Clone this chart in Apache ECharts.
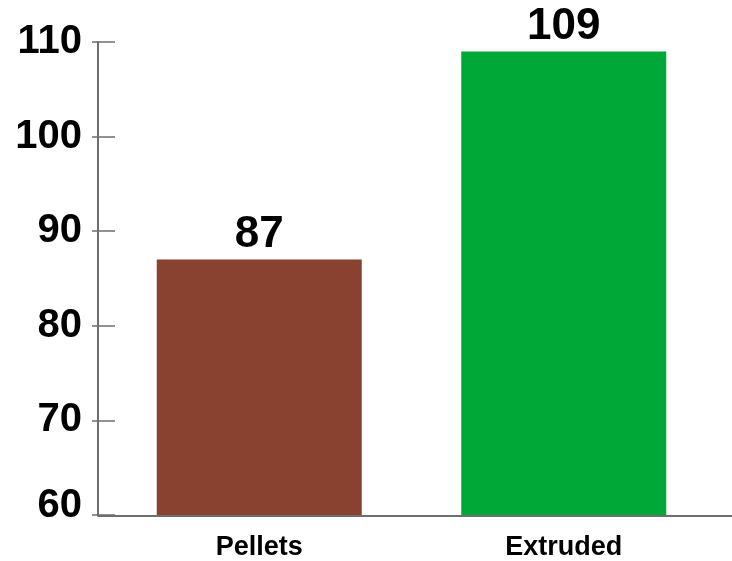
<!DOCTYPE html>
<html>
<head>
<meta charset="utf-8">
<style>
  html, body { margin: 0; padding: 0; background: #ffffff; }
  #chart { width: 732px; height: 561px; }
</style>
<script src="https://cdn.jsdelivr.net/npm/echarts@6/dist/echarts.min.js"></script>
</head>
<body>
<div id="chart"></div>
<script>
// Feed form comparison
const categories = ['Pellets', 'Extruded'];
const values = [87, 109];
const barColors = ['#894130', '#00A838'];
const yTicks = { min: 60, max: 110, step: 10 };

const FONT = '"Liberation Sans", Arial, Helvetica, sans-serif';
const AXIS_GREY = '#6e6e6e';
const yLabelText = { fontFamily: FONT, fontWeight: 'bold', fontSize: 40, color: '#000000' };

const chart = echarts.init(document.getElementById('chart'), null, { renderer: 'canvas' });

chart.setOption({
  animation: false,
  backgroundColor: '#ffffff',
  grid: [
    { left: 107, right: 16, top: 42, bottom: 45 },
    { left: 98, right: 0, top: 42, bottom: 45 }
  ],
  xAxis: [
    {
      type: 'category',
      gridIndex: 0,
      data: categories,
      axisLine: { show: false },
      axisTick: { show: false },
      axisLabel: {
        margin: 19,
        fontFamily: FONT,
        fontWeight: 'bold',
        fontSize: 27,
        color: '#000000'
      }
    },
    {
      // baseline spanning the full plot width
      type: 'value',
      gridIndex: 1,
      min: 0,
      max: 1,
      axisLine: { show: true, lineStyle: { color: AXIS_GREY, width: 2 } },
      axisTick: { show: false },
      axisLabel: { show: false },
      splitLine: { show: false }
    }
  ],
  yAxis: [
    {
      type: 'value',
      gridIndex: 0,
      min: yTicks.min,
      max: yTicks.max,
      interval: yTicks.step,
      offset: 9,
      axisLine: { show: true, lineStyle: { color: AXIS_GREY, width: 2 } },
      axisTick: { show: true, inside: true, length: 17, lineStyle: { color: AXIS_GREY, width: 1.5 } },
      axisLabel: Object.assign({
        margin: 16,
        // lowest label sits a little above the baseline
        formatter: v => (v === yTicks.min ? '{low|' + v + '}' : String(v)),
        rich: { low: Object.assign({ padding: [0, 0, 18, 0] }, yLabelText) }
      }, yLabelText),
      splitLine: { show: false }
    },
    {
      // short outer stubs of the tick marks
      type: 'value',
      gridIndex: 0,
      min: yTicks.min,
      max: yTicks.max,
      interval: yTicks.step,
      position: 'left',
      offset: 9,
      axisLine: { show: false },
      axisTick: { show: true, inside: false, length: 6, lineStyle: { color: AXIS_GREY, width: 1.5 } },
      axisLabel: { show: false },
      splitLine: { show: false }
    },
    {
      type: 'value',
      gridIndex: 1,
      show: false
    }
  ],
  series: [
    {
      type: 'bar',
      xAxisIndex: 0,
      yAxisIndex: 0,
      barWidth: 205,
      data: values.map((v, i) => ({ value: v, itemStyle: { color: barColors[i] } })),
      label: {
        show: true,
        position: 'top',
        distance: 3,
        formatter: '{c}',
        fontFamily: FONT,
        fontWeight: 'bold',
        fontSize: 44,
        color: '#000000'
      }
    }
  ]
});
</script>
</body>
</html>
